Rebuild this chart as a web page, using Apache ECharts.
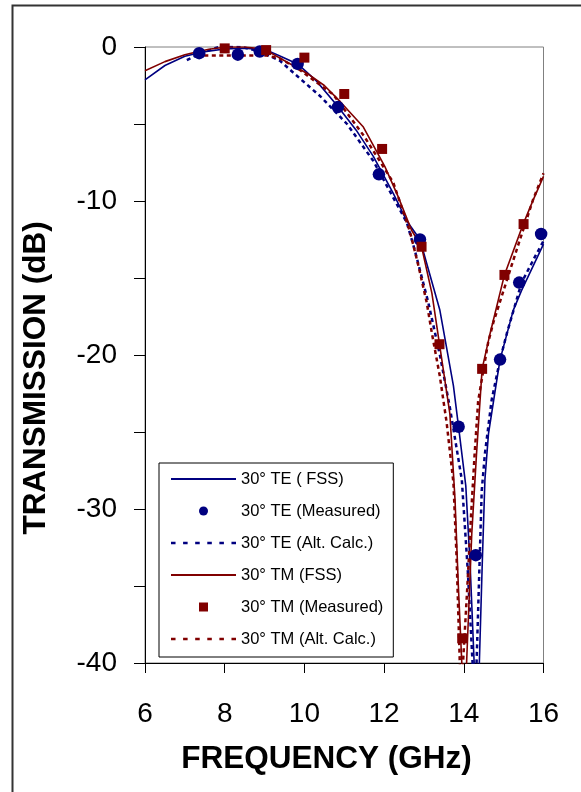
<!DOCTYPE html>
<html><head><meta charset="utf-8">
<script src="https://cdn.jsdelivr.net/npm/echarts@6/dist/echarts.min.js"></script>
<style>html,body{margin:0;padding:0;background:#fff}#c{width:581px;height:792px}</style>
</head><body><div id="c"></div>
<script>
// ---- data ----
const xTicks = [6, 8, 10, 12, 14, 16];
const yTickLabels = [0, -10, -20, -30, -40];

const teFssF  = [6.0, 6.5, 7.0, 7.21, 7.5, 8.0, 8.5, 8.81, 9.14, 9.4, 9.83, 10.3, 10.81, 11.3, 11.73, 12.23, 12.57, 12.9, 13.4, 13.74, 13.87, 14.05, 14.16, 14.26, 14.33, 14.39, 14.46, 14.53, 14.62, 14.83, 14.91, 15.24, 15.45, 16.0];
const teFssDb = [-2.14, -1.2, -0.6, -0.47, -0.3, -0.13, -0.08, -0.15, -0.3, -0.6, -1.1, -2.2, -3.77, -5.4, -7.1, -9.5, -11.3, -12.5, -17.1, -22.0, -24.7, -28.5, -33.7, -40.0, -46.0, -40.0, -33.8, -28.1, -25.1, -21.6, -20.3, -17.1, -15.8, -12.8];

const teMeasF  = [7.36, 8.33, 8.88, 9.83, 10.84, 11.87, 12.9, 13.87, 14.3, 14.91, 15.39, 15.94];
const teMeasDb = [-0.4, -0.5, -0.3, -1.1, -3.9, -8.27, -12.5, -24.66, -33.0, -20.3, -15.3, -12.14];

const teAltF  = [7.05, 7.4, 7.9, 8.43, 8.9, 9.39, 9.78, 10.4, 11.07, 11.73, 12.15, 12.57, 12.77, 13.11, 13.4, 13.65, 13.95, 14.1, 14.22, 14.27, 14.32, 14.45, 14.53, 14.7, 14.91, 15.08, 15.45, 15.79, 16.0];
const teAltDb = [-0.85, -0.4, 0.05, 0.0, -0.3, -0.9, -1.8, -3.2, -5.0, -7.4, -9.4, -11.4, -13.2, -16.6, -20.0, -23.4, -28.1, -34.0, -40.0, -46.0, -40.0, -28.8, -26.4, -22.9, -20.3, -18.6, -15.3, -13.6, -12.6];

const tmFssF  = [6.0, 6.5, 7.0, 7.21, 7.6, 8.05, 8.5, 8.8, 9.1, 9.47, 10.06, 10.5, 10.9, 11.48, 12.02, 12.35, 12.69, 12.94, 13.2, 13.39, 13.65, 13.78, 13.86, 13.95, 14.0, 14.07, 14.2, 14.32, 14.46, 14.66, 15.02, 15.49, 15.74, 16.0];
const tmFssDb = [-1.54, -0.95, -0.5, -0.37, -0.15, 0.0, 0.0, -0.08, -0.3, -0.84, -1.7, -2.5, -3.55, -5.2, -7.77, -9.7, -11.9, -12.97, -16.0, -19.3, -23.8, -29.4, -34.8, -40.0, -46.0, -40.0, -31.6, -26.4, -20.9, -18.6, -14.8, -11.5, -9.94, -8.4];

const tmMeasF  = [8.0, 9.04, 10.0, 11.0, 11.95, 12.94, 13.39, 13.96, 14.46, 15.02, 15.5];
const tmMeasDb = [-0.09, -0.2, -0.69, -3.05, -6.62, -12.97, -19.3, -38.4, -20.9, -14.8, -11.5];

const tmAltF  = [7.3, 8.0, 8.63, 9.05, 9.39, 9.89, 10.73, 11.5, 12.23, 12.65, 12.87, 13.07, 13.2, 13.4, 13.57, 13.74, 13.82, 13.9, 13.94, 13.98, 14.09, 14.18, 14.27, 14.36, 14.49, 14.61, 14.74, 14.95, 15.16, 15.41, 15.74, 16.0];
const tmAltDb = [-0.55, -0.55, -0.55, -0.55, -0.75, -1.5, -3.1, -5.8, -8.8, -12.0, -14.3, -16.6, -18.6, -21.4, -24.4, -28.3, -33.2, -40.0, -46.0, -40.0, -35.0, -30.5, -26.5, -23.0, -21.0, -19.2, -17.9, -16.2, -14.5, -12.5, -9.9, -8.2];

const names = ['30° TE ( FSS)', '30° TE (Measured)', '30° TE (Alt. Calc.)', '30° TM (FSS)', '30° TM (Measured)', '30° TM (Alt. Calc.)'];

// ---- styling ----
const FONT = 'Liberation Sans, Arial, sans-serif';
const BLUE = '#000080', RED = '#800000';
const pairs = (f, d) => f.map((x, i) => [x, d[i]]);
const solidIcon = 'path://M0,0h65v2h-65z';
const dashIcon = 'path://' + [0, 12, 24, 36, 48, 60].map(x => 'M' + x + ',0h4.5v2.5h-4.5z').join('');
const squareIcon = 'path://M0,0h9v9h-9z';

const chart = echarts.init(document.getElementById('c'), null, {renderer: 'canvas'});
chart.setOption({
  animation: false,
  backgroundColor: '#fff',
  grid: {left: 145, top: 47, width: 398.5, height: 616, show: true, borderColor: '#808080', borderWidth: 1, backgroundColor: 'transparent', containLabel: false, outerBoundsMode: 'none'},
  xAxis: {
    type: 'value', min: xTicks[0], max: xTicks[xTicks.length - 1], interval: 2,
    axisLine: {show: true, onZero: false, lineStyle: {color: '#000', width: 1}},
    axisTick: {show: true, inside: false, length: 10, lineStyle: {color: '#000'}},
    splitLine: {show: false},
    axisLabel: {show: true, margin: 37, fontSize: 28, color: '#000', fontFamily: FONT,
      formatter: v => xTicks.indexOf(v) >= 0 ? String(v) : ''}
  },
  yAxis: {
    type: 'value', min: -40, max: 0, interval: 5,
    axisLine: {show: true, onZero: false, lineStyle: {color: '#000', width: 1}},
    axisTick: {show: true, inside: false, length: 11, lineStyle: {color: '#000'}},
    splitLine: {show: false},
    axisLabel: {show: true, margin: 28, fontSize: 28, color: '#000', fontFamily: FONT,
      formatter: v => yTickLabels.indexOf(v) >= 0 ? String(v) : ''}
  },
  legend: {
    orient: 'vertical', left: 159, top: 463,
    padding: [7, 10, 9, 12],
    itemWidth: 65, itemHeight: 9, itemGap: 14, itemTextGap: 5,
    symbolKeepAspect: true,
    selectedMode: false,
    backgroundColor: '#fff', borderColor: '#000', borderWidth: 1,
    textStyle: {fontSize: 16.5, color: '#000', fontFamily: FONT, lineHeight: 18},
    data: [
      {name: names[0], icon: solidIcon, itemStyle: {color: BLUE, borderWidth: 0}},
      {name: names[1], icon: 'circle', itemStyle: {color: BLUE, borderWidth: 0}},
      {name: names[2], icon: dashIcon, itemStyle: {color: BLUE, borderWidth: 0}},
      {name: names[3], icon: solidIcon, itemStyle: {color: RED, borderWidth: 0}},
      {name: names[4], icon: squareIcon, itemStyle: {color: RED, borderWidth: 0}},
      {name: names[5], icon: dashIcon, itemStyle: {color: RED, borderWidth: 0}}
    ]
  },
  series: [
    {name: names[0], type: 'line', data: pairs(teFssF, teFssDb), symbol: 'none', clip: true, z: 2,
      lineStyle: {color: BLUE, width: 1.6}, itemStyle: {color: BLUE}, emphasis: {disabled: true}},
    {name: names[1], type: 'scatter', data: pairs(teMeasF, teMeasDb), symbol: 'circle', symbolSize: 12.5, z: 3,
      itemStyle: {color: BLUE, opacity: 1}, emphasis: {disabled: true}},
    {name: names[2], type: 'line', data: pairs(teAltF, teAltDb), symbol: 'none', clip: true, z: 2,
      lineStyle: {color: BLUE, width: 2.5, type: [4, 3.5]}, itemStyle: {color: BLUE}, emphasis: {disabled: true}},
    {name: names[3], type: 'line', data: pairs(tmFssF, tmFssDb), symbol: 'none', clip: true, z: 2,
      lineStyle: {color: RED, width: 1.6}, itemStyle: {color: RED}, emphasis: {disabled: true}},
    {name: names[4], type: 'scatter', data: pairs(tmMeasF, tmMeasDb), symbol: 'rect', symbolSize: 10, z: 4,
      itemStyle: {color: RED, opacity: 1}, emphasis: {disabled: true}},
    {name: names[5], type: 'line', data: pairs(tmAltF, tmAltDb), symbol: 'none', clip: true, z: 2,
      lineStyle: {color: RED, width: 2.5, type: [4, 3.5]}, itemStyle: {color: RED}, emphasis: {disabled: true}}
  ],
  graphic: [
    {type: 'rect', left: 10, top: 3, shape: {width: 640, height: 840}, style: {fill: 'none', stroke: '#333', lineWidth: 2}, silent: true, z: -1},
    {type: 'text', x: 36.5, y: 378, rotation: Math.PI / 2, style: {text: 'TRANSMISSION (dB)', fontSize: 31.5, fontWeight: 'bold', fontFamily: FONT, fill: '#000', align: 'center', verticalAlign: 'middle'}},
    {type: 'text', x: 326.5, y: 759, style: {text: 'FREQUENCY (GHz)', fontSize: 31.5, fontWeight: 'bold', fontFamily: FONT, fill: '#000', align: 'center', verticalAlign: 'middle'}}
  ]
});
</script>
</body></html>
